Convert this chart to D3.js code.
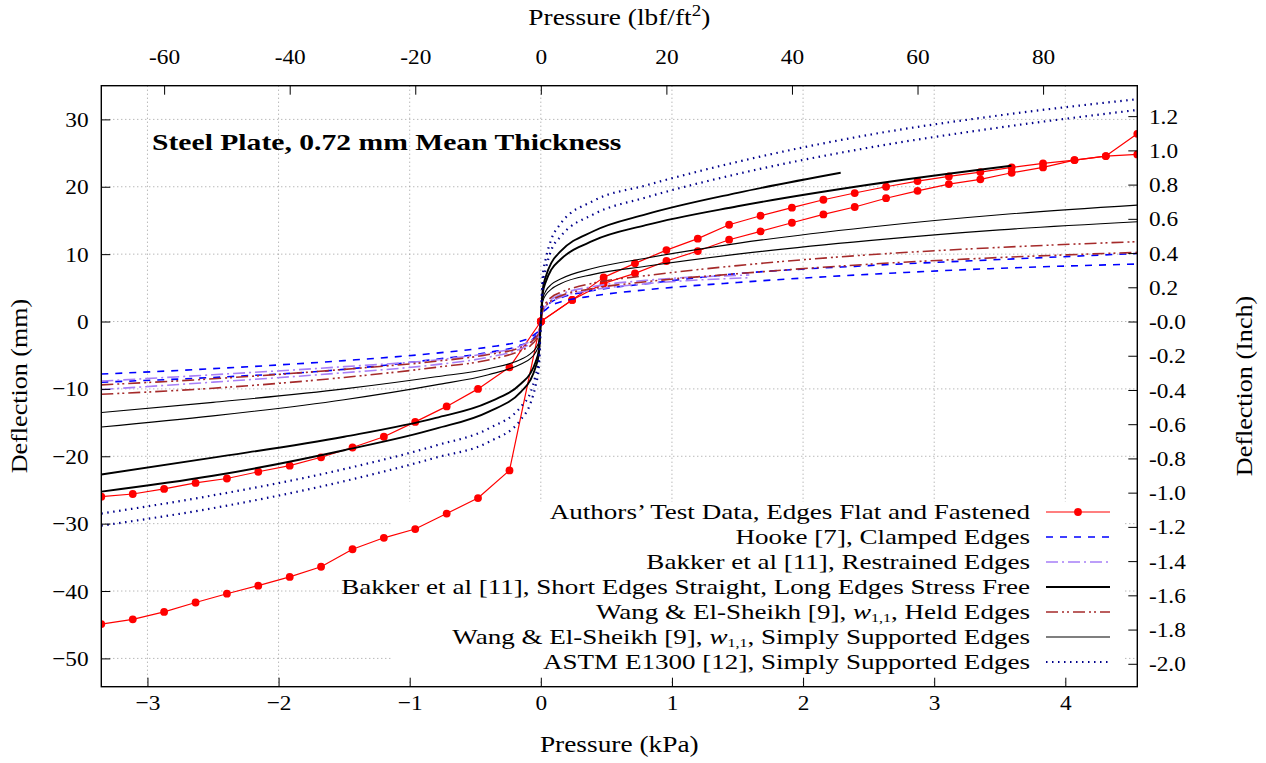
<!DOCTYPE html>
<html>
<head>
<meta charset="utf-8">
<script src="https://cdn.jsdelivr.net/npm/d3@7"></script>
<style>
  body { margin: 0; background: #fff; }
  svg { display: block; font-family: "Liberation Serif", "DejaVu Serif", serif; }
</style>
</head>
<body>
<svg id="chart" width="1266" height="763"></svg>
<script>
// ---- tick values ----
const kpaTicks = [-3, -2, -1, 0, 1, 2, 3, 4];
const mmTicks = [-50, -40, -30, -20, -10, 0, 10, 20, 30];
const lbfTicks = [-60, -40, -20, 0, 20, 40, 60, 80];
const inchTicks = [-2.0, -1.8, -1.6, -1.4, -1.2, -1.0, -0.8, -0.6, -0.4, -0.2, 0, 0.2, 0.4, 0.6, 0.8, 1.0, 1.2];

// unit conversions for the secondary axes
const LBF_PER_KPA = 20.885;
const MM_PER_INCH = 25.4;

// ---- authors' test data (kPa, mm) ----
const testPressurePos = [0, 0.239, 0.479, 0.718, 0.958, 1.197, 1.436, 1.676, 1.915, 2.155, 2.394, 2.633, 2.873, 3.112, 3.352, 3.591, 3.830, 4.070, 4.309, 4.549];
const testPosUpper = [0, 3.2, 6.55, 8.63, 10.6, 12.3, 14.36, 15.7, 16.9, 18.07, 19.07, 20.0, 20.85, 21.54, 22.18, 22.87, 23.46, 23.96, 24.55, 24.8];
const testPosLower = [0, 3.2, 5.66, 7.15, 8.98, 10.46, 12.14, 13.38, 14.66, 15.9, 17.0, 18.3, 19.4, 20.4, 21.1, 22.08, 22.87, 23.96, 24.55, 27.86];
const testPressureNeg = [0, -0.239, -0.479, -0.718, -0.958, -1.197, -1.436, -1.676, -1.915, -2.155, -2.394, -2.633, -2.873, -3.112, -3.352];
const testNegUpper = [0, -6.8, -10.0, -12.6, -14.9, -17.1, -18.7, -20.15, -21.4, -22.3, -23.3, -23.96, -24.85, -25.6, -26.0];
const testNegLower = [0, -22.1, -26.2, -28.5, -30.8, -32.1, -33.8, -36.4, -37.9, -39.2, -40.4, -41.7, -43.1, -44.2, -44.9];

// ---- model curves (kPa, mm), two plates per model ----
const modelX = [-3.352, -2.5, -1.5, -0.8, -0.4, -0.15, -0.08, -0.04, -0.015, 0, 0.015, 0.04, 0.08, 0.15, 0.4, 0.8, 1.5, 2.5, 3.5, 4.549];
const hookeA = [-9.0, -8.3, -7.1, -5.6, -4.6, -3.5, -2.9, -2.2, -1.6, 0, 1.6, 2.2, 2.9, 3.5, 4.6, 5.6, 7.1, 8.3, 9.2, 10.1];
const hookeB = [-7.8, -7.0, -5.8, -4.7, -3.8, -2.9, -2.4, -1.8, -1.3, 0, 1.3, 1.8, 2.4, 2.9, 3.8, 4.7, 5.8, 7.0, 7.9, 8.53];
const heldA = [-10.8, -9.9, -8.3, -6.8, -5.7, -4.3, -3.6, -2.8, -2.0, 0, 2.0, 2.8, 3.6, 4.3, 5.7, 6.8, 8.3, 9.9, 11.0, 11.85];
const heldB = [-9.4, -8.5, -7.1, -5.9, -4.9, -3.8, -3.1, -2.4, -1.7, 0, 1.7, 2.4, 3.1, 3.8, 4.9, 5.9, 7.1, 8.5, 9.5, 10.26];
const simpleA = [-15.65, -14.0, -11.6, -9.4, -7.9, -6.3, -5.5, -4.6, -3.4, 0, 3.4, 4.6, 5.5, 6.3, 7.9, 9.4, 11.6, 14.0, 15.85, 17.28];
const simpleB = [-13.5, -12.0, -10.0, -8.2, -7.0, -5.6, -4.8, -4.0, -3.0, 0, 3.0, 4.0, 4.8, 5.6, 7.0, 8.2, 10.0, 12.0, 13.6, 14.8];
const astmA = [-30.3, -27.7, -23.7, -20.2, -17.9, -14.5, -12.2, -9.5, -6.8, 0, 6.8, 9.5, 12.2, 14.5, 17.9, 20.2, 23.7, 27.7, 30.6, 33.0];
const astmB = [-28.5, -25.8, -21.9, -18.4, -15.9, -12.6, -10.6, -8.0, -5.6, 0, 5.6, 8.0, 10.6, 12.6, 15.9, 18.4, 21.9, 25.8, 28.8, 31.4];

const restrainedX = [-3.352, -2.5, -1.5, -0.8, -0.4, -0.15, -0.08, -0.04, -0.015, 0, 0.015, 0.04, 0.08, 0.15, 0.4, 0.8, 1.59];
const restrainedA = [-10.1, -9.0, -7.6, -6.4, -5.3, -4.0, -3.3, -2.6, -1.9, 0, 1.9, 2.6, 3.3, 4.0, 5.2, 6.1, 6.9];
const restrainedB = [-8.85, -7.9, -6.7, -5.7, -4.7, -3.6, -2.9, -2.3, -1.7, 0, 1.7, 2.3, 2.9, 3.6, 4.7, 5.6, 6.5];

const shortEdgesXA = [-3.352, -2.5, -1.5, -0.8, -0.4, -0.15, -0.08, -0.04, -0.015, 0, 0.015, 0.04, 0.08, 0.15, 0.4, 0.8, 1.5, 2.287];
const shortEdgesA = [-25.25, -22.9, -19.1, -15.9, -13.4, -10.4, -8.7, -6.8, -4.8, 0, 4.8, 6.8, 8.7, 10.4, 13.4, 15.9, 19.1, 22.08];
const shortEdgesXB = [-3.352, -2.5, -1.5, -0.8, -0.4, -0.15, -0.08, -0.04, -0.015, 0, 0.015, 0.04, 0.08, 0.15, 0.4, 0.8, 1.5, 2.5, 3.589];
const shortEdgesB = [-22.7, -20.2, -17.1, -14.3, -12.0, -9.2, -7.7, -6.0, -4.2, 0, 4.2, 6.0, 7.7, 9.2, 12.0, 14.3, 17.1, 20.3, 23.12];

(function(){
  "use strict";

  const W = 1266, H = 763;
  const plot = {left: 101.3, right: 1137.3, top: 85.7, bottom: 686.7};
  const FONT = 23;       // axis titles
  const KEY_FONT = 22;   // legend rows are tight, keep a bit smaller
  const TICK_FONT = 22;  // tick labels
  const STRETCH = 1.19;  // Times is narrower than the LaTeX face in the picture

  // line looks, in legend order
  const styles = {
    test:       {stroke: "#ff0000", width: 1.2, dash: null},
    hooke:      {stroke: "#0000ff", width: 1.6, dash: "7,7"},
    restrained: {stroke: "#a77ff7", width: 1.6, dash: "12,4,2,4"},
    shortEdges: {stroke: "#000000", width: 1.9, dash: null},
    held:       {stroke: "#a52a2a", width: 1.6, dash: "12,4,2,3,2,4"},
    simple:     {stroke: "#000000", width: 1.1, dash: null},
    astm:       {stroke: "#00008b", width: 2.2, dash: "1.5,4.5"}
  };

  const svg = d3.select("#chart");
  svg.append("rect").attr("width", W).attr("height", H).attr("fill", "#fff");

  // scales: kPa / mm primary, lbf/ft2 / inch secondary
  const x = d3.scaleLinear().domain([-3.352, 4.549]).range([plot.left, plot.right]);
  const y = d3.scaleLinear().domain([-54.2, 35]).range([plot.bottom, plot.top]);
  const xTop = d3.scaleLinear().domain(x.domain().map(d => d * LBF_PER_KPA)).range(x.range());
  const yRight = d3.scaleLinear().domain(y.domain().map(d => d / MM_PER_INCH)).range(y.range());

  // dotted grid
  const grid = svg.append("g")
    .attr("stroke", "#9a9a9a").attr("stroke-width", 1).attr("stroke-dasharray", "1,3");
  grid.selectAll("line.v").data(kpaTicks).enter().append("line")
    .attr("x1", d => x(d)).attr("x2", d => x(d))
    .attr("y1", plot.top).attr("y2", plot.bottom);
  grid.selectAll("line.h").data(mmTicks).enter().append("line")
    .attr("y1", d => y(d)).attr("y2", d => y(d))
    .attr("x1", plot.left).attr("x2", plot.right);

  // key background hides the grid but not the data
  svg.append("rect").attr("x", 392).attr("y", 502).attr("width", 733).attr("height", 177)
    .attr("fill", "#fff");

  // clip for curves
  svg.append("clipPath").attr("id", "clip").append("rect")
    .attr("x", plot.left).attr("y", plot.top)
    .attr("width", plot.right - plot.left).attr("height", plot.bottom - plot.top);
  const body = svg.append("g").attr("clip-path", "url(#clip)");

  const zip = (xs, ys) => xs.map((v, i) => [v, ys[i]]);
  const smooth = d3.line().x(d => x(d[0])).y(d => y(d[1])).curve(d3.curveMonotoneX);
  const straight = d3.line().x(d => x(d[0])).y(d => y(d[1]));

  function drawPath(pts, st, gen){
    body.append("path")
      .attr("d", gen(pts))
      .attr("fill", "none")
      .attr("stroke", st.stroke)
      .attr("stroke-width", st.width)
      .attr("stroke-dasharray", st.dash)
      .attr("stroke-linejoin", "round");
  }

  // test data: 4 branches, lines + dots
  const testSets = [
    zip(testPressurePos, testPosUpper), zip(testPressurePos, testPosLower),
    zip(testPressureNeg, testNegUpper), zip(testPressureNeg, testNegLower)
  ];
  testSets.forEach(pts => {
    drawPath(pts, styles.test, straight);
    body.append("g").selectAll("circle").data(pts).enter().append("circle")
      .attr("cx", d => x(d[0])).attr("cy", d => y(d[1]))
      .attr("r", 3.9).attr("fill", "#ff0000");
  });

  // model curves
  drawPath(zip(modelX, hookeA), styles.hooke, smooth);
  drawPath(zip(modelX, hookeB), styles.hooke, smooth);
  drawPath(zip(restrainedX, restrainedA), styles.restrained, smooth);
  drawPath(zip(restrainedX, restrainedB), styles.restrained, smooth);
  drawPath(zip(shortEdgesXA, shortEdgesA), styles.shortEdges, smooth);
  drawPath(zip(shortEdgesXB, shortEdgesB), styles.shortEdges, smooth);
  drawPath(zip(modelX, heldA), styles.held, smooth);
  drawPath(zip(modelX, heldB), styles.held, smooth);
  drawPath(zip(modelX, simpleA), styles.simple, smooth);
  drawPath(zip(modelX, simpleB), styles.simple, smooth);
  drawPath(zip(modelX, astmA), styles.astm, smooth);
  drawPath(zip(modelX, astmB), styles.astm, smooth);

  // axes, ticks pointing inward
  function styleAxis(g){
    g.select(".domain").remove();
    g.attr("font-family", null).attr("font-size", TICK_FONT);
    g.selectAll("line").attr("stroke", "#000");
    g.selectAll("text").attr("fill", "#000").attr("transform", "scale(1.06,1)");
  }
  svg.append("g").attr("transform", `translate(0,${plot.bottom})`)
    .call(d3.axisBottom(x).tickValues(kpaTicks).tickSize(-9).tickPadding(8))
    .call(styleAxis);
  svg.append("g").attr("transform", `translate(${plot.left},0)`)
    .call(d3.axisLeft(y).tickValues(mmTicks).tickSize(-9).tickPadding(12))
    .call(styleAxis);
  svg.append("g").attr("transform", `translate(0,${plot.top})`)
    .call(d3.axisTop(xTop).tickValues(lbfTicks).tickSize(-9).tickPadding(22).tickFormat(d => String(d)))
    .call(styleAxis);
  svg.append("g").attr("transform", `translate(${plot.right},0)`)
    .call(d3.axisRight(yRight).tickValues(inchTicks).tickSize(-9).tickPadding(11)
      .tickFormat(d => (d <= 0 ? "-" + Math.abs(d).toFixed(1) : d.toFixed(1))))
    .call(styleAxis);

  // frame
  svg.append("rect")
    .attr("x", plot.left).attr("y", plot.top)
    .attr("width", plot.right - plot.left).attr("height", plot.bottom - plot.top)
    .attr("fill", "none").attr("stroke", "#000").attr("stroke-width", 1.4);

  // text helper: widened serif text
  function label(tf, anchor, size, sx){
    return svg.append("text")
      .attr("transform", `${tf} scale(${sx || STRETCH},1)`)
      .attr("text-anchor", anchor)
      .attr("font-size", size || FONT);
  }

  // axis titles
  const cx = (plot.left + plot.right) / 2;
  label(`translate(${cx},752)`, "middle").text("Pressure (kPa)");
  const topTitle = label(`translate(${cx},25)`, "middle");
  topTitle.append("tspan").text("Pressure (lbf/ft");
  topTitle.append("tspan").attr("font-size", 16).attr("dy", -9).text("2");
  topTitle.append("tspan").attr("dy", 9).text(")");
  label("translate(27,386) rotate(-90)", "middle", FONT, 1.135).text("Deflection (mm)");
  label("translate(1252,386) rotate(-90)", "middle", FONT, 1.135).text("Deflection (Inch)");

  // title inside plot
  label("translate(152,150)", "start", 24, 1.235).attr("font-weight", "bold")
    .text("Steel Plate, 0.72 mm Mean Thickness");

  // legend
  const legendItems = [
    {style: "test", parts: [["Authors’ Test Data, Edges Flat and Fastened"]], dot: true},
    {style: "hooke", parts: [["Hooke [7], Clamped Edges"]]},
    {style: "restrained", parts: [["Bakker et al [11], Restrained Edges"]]},
    {style: "shortEdges", parts: [["Bakker et al [11], Short Edges Straight, Long Edges Stress Free"]]},
    {style: "held", parts: [["Wang & El-Sheikh [9], "], ["w", "i"], ["1,1", "sub"], [", Held Edges"]]},
    {style: "simple", parts: [["Wang & El-Sheikh [9], "], ["w", "i"], ["1,1", "sub"], [", Simply Supported Edges"]]},
    {style: "astm", parts: [["ASTM E1300 [12], Simply Supported Edges"]]}
  ];
  const rowY = d3.scaleLinear().domain([0, 6]).range([512, 662]);

  legendItems.forEach((item, i) => {
    const cy = rowY(i);
    const t = label(`translate(1030,${cy + 7})`, "end", KEY_FONT, 1.23);
    let shifted = false;
    item.parts.forEach(p => {
      const ts = t.append("tspan").text(p[0]);
      if (p[1] === "i") ts.attr("font-style", "italic");
      if (p[1] === "sub") { ts.attr("font-size", 13).attr("dy", 2.5); shifted = true; }
      else if (shifted) { ts.attr("dy", -2.5); shifted = false; }
    });
    const st = styles[item.style];
    svg.append("line").attr("x1", 1046).attr("x2", 1110).attr("y1", cy).attr("y2", cy)
      .attr("stroke", st.stroke).attr("stroke-width", st.width).attr("stroke-dasharray", st.dash);
    if (item.dot) {
      svg.append("circle").attr("cx", 1078).attr("cy", cy).attr("r", 3.9).attr("fill", "#ff0000");
    }
  });
})();
</script>
</body>
</html>
